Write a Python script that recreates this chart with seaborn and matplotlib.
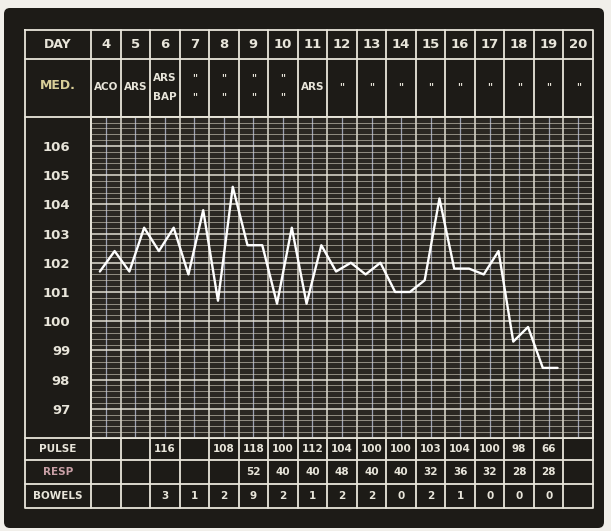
"""Clinical temperature chart (days 4-20) redrawn with seaborn/matplotlib."""
import numpy as np
import matplotlib
matplotlib.use("Agg")
import matplotlib.pyplot as plt
import seaborn as sns
from matplotlib.patches import FancyBboxPatch

# ---- data -------------------------------------------------------------
days = list(range(4, 21))
# two readings a day (morning, evening) from day 4 to day 19
temps = [101.7, 102.4, 101.7, 103.2, 102.4, 103.2, 101.6, 103.8,
         100.7, 104.6, 102.6, 102.6, 100.6, 103.2, 100.6, 102.6,
         101.7, 102.0, 101.6, 102.0, 101.0, 101.0, 101.4, 104.2,
         101.8, 101.8, 101.6, 102.4, 99.3, 99.8, 98.4, 98.4]
temp_ticks = list(range(97, 107))

med_mid = ["ACO", "ARS", "", "", "", "", "", "ARS",
           '"', '"', '"', '"', '"', '"', '"', '"', '"']
med_upper = ["", "", "ARS", '"', '"', '"', '"', "", "", "", "", "", "", "", "", "", ""]
med_lower = ["", "", "BAP", '"', '"', '"', '"', "", "", "", "", "", "", "", "", "", ""]

pulse = [None, None, 116, None, 108, 118, 100, 112, 104, 100, 100, 103, 104, 100, 98, 66, None]
resp = [None, None, None, None, None, 52, 40, 40, 48, 40, 40, 32, 36, 32, 28, 28, None]
bowels = [None, None, 3, 1, 2, 9, 2, 1, 2, 2, 0, 2, 1, 0, 0, 0, None]

# ---- style ------------------------------------------------------------
W, H = 611, 531
INK = "#e8e5da"
DARK = "#1d1b17"
GRID_BG = "#2a2722"

sns.set_theme(style="dark")
plt.rcParams["font.family"] = ["DejaVu Sans"]

fig = plt.figure(figsize=(W / 100, H / 100), dpi=100)
fig.patch.set_facecolor("#f1efea")

# overlay in pixel coordinates for the frame and the table
bg = fig.add_axes([0, 0, 1, 1])
bg.set_xlim(0, W)
bg.set_ylim(H, 0)
bg.axis("off")
bg.add_patch(FancyBboxPatch((4, 8), 600, 520, boxstyle="round,pad=0,rounding_size=6",
                            fc=DARK, ec="none"))

left, right, top, bottom = 25, 593, 30, 508
lab_r = 91
col_w = (right - lab_r) / len(days)
y_day, y_med, y_grid, y_pulse, y_resp = 59, 116.7, 438, 460, 483.5

lw = 1.3
bg.plot([left, right, right, left, left], [top, top, bottom, bottom, top], color=INK, lw=lw)
for yy in [y_day, y_med, y_grid, y_pulse, y_resp]:
    bg.plot([left, right], [yy, yy], color=INK, lw=lw)
bg.plot([lab_r, lab_r], [top, bottom], color=INK, lw=lw)
for i in range(1, len(days)):
    xx = lab_r + i * col_w
    bg.plot([xx, xx], [top, y_med], color=INK, lw=lw)
    bg.plot([xx, xx], [y_grid, bottom], color=INK, lw=lw)

lab_c = (left + lab_r) / 2
bg.text(lab_c, (top + y_day) / 2, "DAY", color=INK, fontsize=9, fontweight="bold",
        ha="center", va="center")
bg.text(lab_c, (y_day + y_med) / 2 - 2, "MED.", color="#d9cf98", fontsize=9,
        fontweight="bold", ha="center", va="center")
bg.text(lab_c, (y_grid + y_pulse) / 2, "PULSE", color=INK, fontsize=7.5,
        fontweight="bold", ha="center", va="center")
bg.text(lab_c, (y_pulse + y_resp) / 2, "RESP", color="#c9a0a6", fontsize=7.5,
        fontweight="bold", ha="center", va="center")
bg.text(lab_c, (y_resp + bottom) / 2, "BOWELS", color=INK, fontsize=7.5,
        fontweight="bold", ha="center", va="center")

for i, d in enumerate(days):
    xc = lab_r + (i + 0.5) * col_w
    bg.text(xc, (top + y_day) / 2, str(d), color=INK, fontsize=9.5, fontweight="bold",
            ha="center", va="center")
    if med_mid[i]:
        small = med_mid[i] == '"'
        bg.text(xc, 87, med_mid[i], color=INK, fontsize=7 if small else 7.5,
                fontweight="bold", ha="center", va="center")
    if med_upper[i]:
        bg.text(xc, 78, med_upper[i], color=INK, fontsize=7.5 if len(med_upper[i]) > 1 else 7,
                fontweight="bold", ha="center", va="center")
    if med_lower[i]:
        bg.text(xc, 97, med_lower[i], color=INK, fontsize=7.5 if len(med_lower[i]) > 1 else 7,
                fontweight="bold", ha="center", va="center")
    for vals, yc in [(pulse, (y_grid + y_pulse) / 2), (resp, (y_pulse + y_resp) / 2),
                     (bowels, (y_resp + bottom) / 2)]:
        if vals[i] is not None:
            bg.text(xc, yc, str(vals[i]), color=INK, fontsize=7.5, fontweight="bold",
                    ha="center", va="center")

# ---- temperature grid ---------------------------------------------------
ax = fig.add_axes([lab_r / W, (H - y_grid) / H, (right - lab_r) / W, (y_grid - y_med) / H])
ax.set_facecolor(GRID_BG)
ax.set_xlim(0, len(days))
ax.set_ylim(96, 107)

ax.set_xticks(range(len(days) + 1))
ax.set_xticks(np.arange(0.5, len(days), 1.0), minor=True)
ax.set_yticks(temp_ticks)
ax.set_yticks(np.arange(96, 107.01, 0.2), minor=True)
ax.set_yticklabels([str(t) for t in temp_ticks], color=INK, fontsize=9.5, fontweight="bold")
ax.set_xticklabels([])
ax.tick_params(which="both", length=0)
ax.tick_params(axis="y", pad=15)
ax.grid(which="major", axis="both", color="#ebe8dc", lw=1.1, alpha=0.95)
ax.grid(which="minor", axis="y", color="#d6d1c2", lw=0.6, alpha=0.7)
ax.grid(which="minor", axis="x", color="#b9c0d6", lw=0.9, alpha=0.8)
for s in ax.spines.values():
    s.set_color(INK)
    s.set_linewidth(lw)

reading_x = [d - days[0] + 0.3 + 0.5 * k for d in days[:16] for k in (0, 1)]
sns.lineplot(x=reading_x, y=temps, ax=ax, color="white", lw=1.7, zorder=5)

fig.savefig("out.png", dpi=100, facecolor=fig.get_facecolor())
